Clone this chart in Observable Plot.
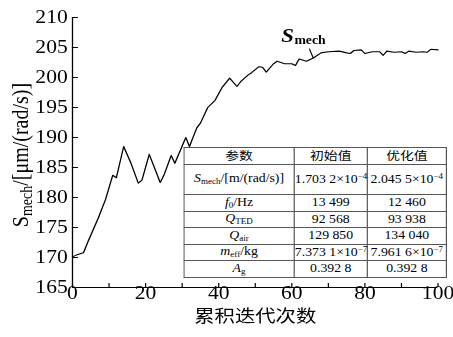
<!DOCTYPE html>
<html><head><meta charset="utf-8">
<script src="https://cdn.jsdelivr.net/npm/d3@7"></script>
<script src="https://cdn.jsdelivr.net/npm/@observablehq/plot@0.6"></script>
<style>
html,body{margin:0;padding:0;background:#fff;overflow:hidden;}
#wrap{position:relative;width:378px;height:337px;transform:scaleX(1.1984);transform-origin:0 0;}
#wrap svg{position:absolute;left:0;top:0;}
#tbl{position:absolute;left:153px;top:147px;width:219px;border-collapse:collapse;background:#fff;
  font-family:'Liberation Serif',serif;font-size:11.5px;color:#000;table-layout:fixed;}
#tbl td{border:1px solid #555;padding:0;text-align:center;white-space:nowrap;overflow:visible;line-height:1;}
#tbl td.cjk{font-family:'Noto Sans CJK SC',sans-serif;font-size:11.5px;}
#tbl sub{font-size:7.5px;vertical-align:-2px;}
#tbl sup{font-size:7.5px;vertical-align:4px;}
#tbl i{font-style:italic;}
</style></head><body><div id="wrap"></div>
<script>
// ---- data ----
const iterations = [0,1,3,4,5,7,9,11,12,14,16,18,19,21,24,25,27,28,31,32,34,35,37,39,41,43,45,46,48,49,51,52,53,55,56,58,60,61,62,64,66,68,70,73,75,76,77,79,80,82,84,85,86,88,90,91,92,94,96,97,98,100];
const smech = [170.1,170.4,170.8,172.3,173.7,176.5,179.6,183.7,183.3,188.5,185.7,182.4,182.9,187.2,182.5,183.7,187.0,185.7,190.0,188.5,191.6,192.4,195.0,196.2,198.4,199.9,198.5,199.3,200.4,200.8,201.8,201.7,200.9,202.3,202.7,202.3,202.3,202.0,203.1,202.7,203.3,204.1,204.3,204.4,204.1,204.0,204.5,204.6,204.0,204.3,204.3,203.7,204.4,204.2,204.3,204.0,204.4,204.2,204.3,204.2,204.7,204.6];
const xTicks = [0,20,40,60,80,100];
const xMinorTicks = [0,10,20,30,40,50,60,70,80,90,100];
const yTicks = [165,170,175,180,185,190,195,200,205,210];
const xLabel = "累积迭代次数";
const yLabelParts = ["S","mech","/[μm/(rad/s)]"];
const seriesName = ["S","mech"];
const seriesLabelAt = [57.1, 206.0];
const pointerFrom = [64.8, 204.8];
const pointerTo = [65.9, 203.2];
const tableHeader = ["参数","初始值","优化值"];
const paramSymbols = ["S","f","Q","Q","m","A"];
const paramSubs = ["mech","0","TED","air","eff","g"];
const paramUnits = ["/[m/(rad/s)]","/Hz","","","/kg",""];
const initialValues = ["1.703 2×10^−4","13 499","92 568","129 850","7.373 1×10^−7","0.392 8"];
const optimizedValues = ["2.045 5×10^−4","12 460","93 938","134 040","7.961 6×10^−7","0.392 8"];

// ---- chart ----
const data = iterations.map((x, i) => ({x, y: smech[i]}));
const serif = "'Liberation Serif', 'Times New Roman', serif";
const plot = Plot.plot({
  width: 378, height: 337,
  marginLeft: 60, marginRight: 13, marginTop: 17, marginBottom: 50,
  style: {fontFamily: serif, fontSize: "18px", color: "#000", background: "transparent", overflow: "visible"},
  x: {domain: [0, 100]},
  y: {domain: [165, 210]},
  marks: [
    Plot.axisX(xMinorTicks, {tickSize: -4, fill: "none", stroke: "#000", label: null}),
    Plot.axisX(xTicks, {tickSize: 0, tickPadding: -1, label: null, fontSize: 18}),
    Plot.axisY(yTicks, {tickSize: -5, tickPadding: 9, label: null, fontSize: 18}),
    Plot.ruleX([0], {stroke: "#000", strokeWidth: 1.1}),
    Plot.ruleY([165], {stroke: "#000", strokeWidth: 1.1}),
    Plot.line(data, {x: "x", y: "y", stroke: "#000", strokeWidth: 1.1}),
    Plot.link([0], {x1: () => pointerFrom[0], y1: () => pointerFrom[1], x2: () => pointerTo[0], y2: () => pointerTo[1], stroke: "#000", strokeWidth: 1}),
    Plot.text([seriesName[0]], {x: () => seriesLabelAt[0], y: () => seriesLabelAt[1], text: d => d, textAnchor: "start", lineAnchor: "bottom", fontSize: 19, fontWeight: "bold", fontStyle: "italic", fontFamily: serif}),
    Plot.text([seriesName[1]], {x: () => seriesLabelAt[0], y: () => seriesLabelAt[1], text: d => d, textAnchor: "start", lineAnchor: "bottom", dx: 11, dy: 2.5, fontSize: 11.5, fontWeight: "bold", fontFamily: serif}),
    Plot.text([xLabel], {frameAnchor: "bottom", dy: 29, lineAnchor: "middle", fontSize: 17, fontFamily: "'Noto Sans CJK SC', sans-serif"})
  ]
});
document.getElementById("wrap").appendChild(plot);

// y-axis label with subscript
const svg = d3.select(plot);
const yl = svg.append("text")
  .attr("transform", "translate(23,155) rotate(-90)")
  .attr("text-anchor", "middle")
  .attr("font-family", serif).attr("font-size", 20).attr("fill", "#000");
yl.append("tspan").text(yLabelParts[0]);
yl.append("tspan").attr("font-size", 14).attr("dy", 4).text(yLabelParts[1]);
yl.append("tspan").attr("dy", -4).text(yLabelParts[2]);

// table
const fmtVal = s => s.includes("^") ? s.split("^")[0] + "<sup>" + s.split("^")[1] + "</sup>" : s;
const rowHeights = [16.7, 30.3, 16.6, 16.6, 16.6, 16.6, 16.6];
let html = '<table id="tbl"><colgroup><col style="width:92px"><col style="width:61px"><col style="width:66px"></colgroup>';
html += `<tr style="height:${rowHeights[0]}px">` + tableHeader.map(h => `<td class="cjk">${h}</td>`).join("") + "</tr>";
paramSymbols.forEach((s, i) => {
  html += `<tr style="height:${rowHeights[i+1]}px"><td><i>${s}</i><sub>${paramSubs[i]}</sub>${paramUnits[i]}</td><td>${fmtVal(initialValues[i])}</td><td>${fmtVal(optimizedValues[i])}</td></tr>`;
});
html += "</table>";
document.getElementById("wrap").insertAdjacentHTML("beforeend", html);
</script>
</body></html>
